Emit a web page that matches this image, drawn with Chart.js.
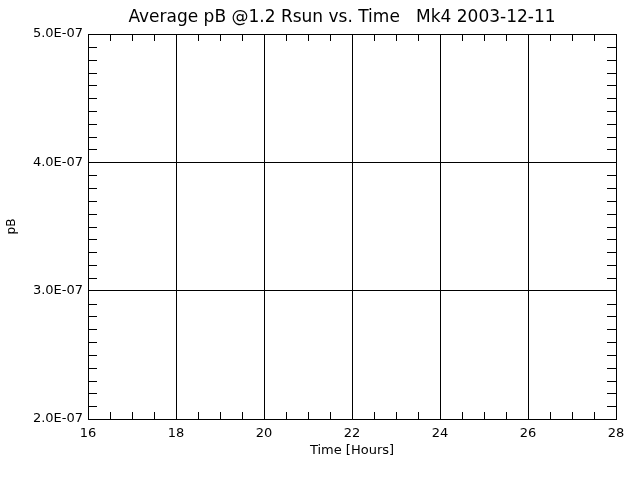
<!DOCTYPE html>
<html>
<head>
<meta charset="utf-8">
<script src="https://cdn.jsdelivr.net/npm/chart.js@4/dist/chart.umd.min.js"></script>
<style>
  body { margin: 0; background: #fff; }
  canvas { display: block; }
</style>
</head>
<body>
<canvas id="chart" width="640" height="480"></canvas>
<script>
// Mk4 average pB plot -- the reference has axes and grid only, no data points
const titleText = 'Average pB @1.2 Rsun vs. Time   Mk4 2003-12-11'
const xLabel = 'Time [Hours]'
const yLabel = 'pB'
const xTicks = [16, 18, 20, 22, 24, 26, 28]
const yTicks = [2e-7, 3e-7, 4e-7, 5e-7]
const xMinorPerMajor = 4
const yMinorPerMajor = 10
const timeHours = []
const pbValues = []

const FONT = 'DejaVu Sans'

const idlExp = function(v) {
    const parts = v.toExponential(1).toUpperCase().split('E')
    const n = parseInt(parts[1])
    return parts[0] + 'E' + (n < 0 ? '-' : '+') + String(Math.abs(n)).padStart(2, '0')
}

// inward minor ticks on all four sides, IDL style
const minorTicks = {
    id: 'minorTicks',
    afterDraw(chart) {
        const ctx = chart.ctx
        const a = chart.chartArea
        const xs = chart.scales.x
        const ys = chart.scales.y
        ctx.save()
        ctx.strokeStyle = '#000'
        ctx.lineWidth = 1
        ctx.beginPath()
        for (let i = 0; i < xTicks.length - 1; i++) {
            const step = (xTicks[i + 1] - xTicks[i]) / xMinorPerMajor
            for (let k = 1; k < xMinorPerMajor; k++) {
                const px = Math.round(xs.getPixelForValue(xTicks[i] + k * step)) + 0.5
                ctx.moveTo(px, a.bottom)
                ctx.lineTo(px, a.bottom - 7)
                ctx.moveTo(px, a.top)
                ctx.lineTo(px, a.top + 7)
            }
        }
        for (let i = 0; i < yTicks.length - 1; i++) {
            const step = (yTicks[i + 1] - yTicks[i]) / yMinorPerMajor
            for (let k = 1; k < yMinorPerMajor; k++) {
                const py = Math.round(ys.getPixelForValue(yTicks[i] + k * step)) + 0.5
                ctx.moveTo(a.left, py)
                ctx.lineTo(a.left + 9, py)
                ctx.moveTo(a.right, py)
                ctx.lineTo(a.right - 9, py)
            }
        }
        ctx.stroke()

        // plot title
        ctx.fillStyle = '#000'
        ctx.font = '17px "' + FONT + '"'
        ctx.textAlign = 'center'
        ctx.textBaseline = 'middle'
        ctx.fillText(titleText, 342, 18)
        ctx.restore()
    }
}

const data = {
    datasets: [{
        label: yLabel,
        data: timeHours.map((t, i) => ({ x: t, y: pbValues[i] })),
        type: 'scatter',
        pointRadius: 2,
        backgroundColor: '#000',
        borderColor: '#000'
    }]
}

const config = {
    type: 'scatter',
    data: data,
    options: {
        responsive: false,
        animation: false,
        layout: {
            padding: { top: 34, right: 24, left: 0, bottom: 22 }
        },
        plugins: {
            legend: { display: false },
            tooltip: { enabled: false },
            title: { display: false }
        },
        scales: {
            x: {
                type: 'linear',
                min: xTicks[0],
                max: xTicks[xTicks.length - 1],
                afterBuildTicks: (s) => { s.ticks = xTicks.map((v) => ({ value: v })) },
                afterFit: (s) => { s.height = 39 },
                grid: { color: '#000', lineWidth: 1, drawTicks: false },
                border: { color: '#000', width: 1 },
                ticks: {
                    color: '#000',
                    padding: 7,
                    maxRotation: 0,
                    font: { family: FONT, size: 13 }
                },
                title: {
                    display: true,
                    text: xLabel,
                    color: '#000',
                    padding: { top: 1, bottom: 0 },
                    font: { family: FONT, size: 13 }
                }
            },
            y: {
                type: 'linear',
                min: yTicks[0],
                max: yTicks[yTicks.length - 1],
                afterBuildTicks: (s) => { s.ticks = yTicks.map((v) => ({ value: v })) },
                afterFit: (s) => { s.width = 88 },
                grid: { color: '#000', lineWidth: 1, drawTicks: false },
                border: { color: '#000', width: 1 },
                ticks: {
                    color: '#000',
                    padding: 5,
                    font: { family: FONT, size: 13 },
                    callback: (v) => idlExp(v)
                },
                title: {
                    display: true,
                    text: yLabel,
                    color: '#000',
                    padding: { top: 5, bottom: 0 },
                    font: { family: FONT, size: 12 }
                }
            }
        }
    },
    plugins: [minorTicks]
}

new Chart(document.getElementById('chart'), config)
</script>
</body>
</html>
